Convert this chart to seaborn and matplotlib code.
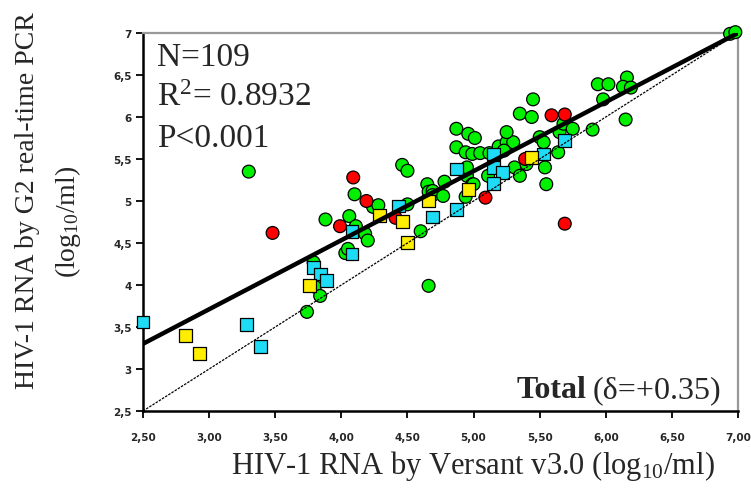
import numpy as np
import pandas as pd
import matplotlib
matplotlib.use("Agg")
import matplotlib.pyplot as plt
import seaborn as sns

# ---------------- data ----------------
green_x = [3.30, 3.88, 3.79, 3.80, 3.84, 3.74, 4.03, 4.05, 4.06, 4.11, 4.18, 4.20, 4.24, 4.28,
           4.10, 4.46, 4.50, 4.50, 4.60, 4.66, 4.65, 4.66, 4.69, 4.69, 4.78, 4.77, 4.95, 4.99,
           4.94, 4.87, 4.96, 5.01, 4.87, 4.94, 4.99, 5.05, 5.12, 5.19, 5.25, 5.30, 5.23, 5.25,
           4.95, 5.11, 5.00, 5.31, 5.40, 5.54, 5.35, 5.55, 5.64, 5.50, 5.53, 5.65, 5.68, 5.75,
           5.90, 5.35, 5.44, 5.45, 5.94, 6.02, 6.16, 6.13, 6.19, 5.98, 6.15, 6.94, 6.98]
green_y = [5.35, 4.78, 4.27, 3.98, 3.87, 3.68, 4.38, 4.43, 4.82, 4.70, 4.61, 4.53, 4.93, 4.95,
           5.08, 5.43, 5.36, 4.96, 4.64, 3.99, 5.20, 5.11, 5.12, 5.07, 5.23, 5.06, 5.30, 5.20,
           5.05, 5.86, 5.80, 5.75, 5.64, 5.58, 5.56, 5.57, 5.57, 5.65, 5.70, 5.70, 5.60, 5.82,
           5.40, 5.30, 5.20, 5.40, 5.44, 5.40, 5.30, 5.20, 5.58, 5.76, 5.70, 5.82, 5.92, 5.86,
           5.85, 6.04, 6.00, 6.21, 6.39, 6.39, 6.47, 6.36, 6.35, 6.21, 5.97, 6.99, 7.01]

red_x = [3.48, 3.99, 4.09, 4.19, 4.41, 5.09, 5.39, 5.59, 5.69, 5.69]
red_y = [4.62, 4.70, 5.28, 5.00, 4.80, 5.04, 5.50, 6.02, 6.03, 4.73]

cyan_x = [2.50, 3.28, 3.39, 3.79, 3.84, 3.89, 4.08, 4.08, 4.43, 4.69, 4.87, 4.87, 5.15,
          5.22, 5.15, 5.15, 5.53, 5.69]
cyan_y = [3.56, 3.53, 3.27, 4.21, 4.13, 4.05, 4.37, 4.64, 4.94, 4.81, 4.90, 5.38, 5.40,
          5.34, 5.21, 5.56, 5.56, 5.72]

yellow_x = [2.82, 2.93, 3.76, 4.29, 4.46, 4.50, 4.66, 4.96, 5.44]
yellow_y = [3.40, 3.18, 3.99, 4.83, 4.76, 4.51, 5.00, 5.14, 5.52]

fit_x = [2.50, 7.00]          # regression line
fit_y = [3.30, 7.00]
ident_x = [2.50, 7.00]        # line of identity
ident_y = [2.50, 7.00]

x_ticks = [2.5, 3.0, 3.5, 4.0, 4.5, 5.0, 5.5, 6.0, 6.5, 7.0]
x_ticklabels = ["2,50", "3,00", "3,50", "4,00", "4,50", "5,00", "5,50", "6,00", "6,50", "7,00"]
y_ticks = [2.5, 3.0, 3.5, 4.0, 4.5, 5.0, 5.5, 6.0, 6.5, 7.0]
y_ticklabels = ["2,5", "3", "3,5", "4", "4,5", "5", "5,5", "6", "6,5", "7"]

stats_lines = ["N=109", r"R$^2$= 0.8932", "P<0.001"]
total_bold = "Total"
total_rest = "(δ=+0.35)"
xlabel = r"HIV-1 RNA by Versant v3.0 (log$_{10}$/ml)"
ylabel1 = "HIV-1 RNA by G2 real-time PCR"
ylabel2 = r"(log$_{10}$/ml)"

# ---------------- build table ----------------
frames = []
for name, xs, ys in [("green", green_x, green_y), ("red", red_x, red_y),
                     ("cyan", cyan_x, cyan_y), ("yellow", yellow_x, yellow_y)]:
    frames.append(pd.DataFrame({"x": xs, "y": ys, "grp": name}))
df = pd.concat(frames, ignore_index=True)

palette = {"green": "#00F000", "red": "#FF0000", "cyan": "#1EDCF5", "yellow": "#FFEE00"}
markers = {"green": "o", "red": "o", "cyan": "s", "yellow": "s"}

# ---------------- plot ----------------
sns.set_style("white")
plt.rcParams["font.family"] = ["Liberation Serif", "DejaVu Serif"]
plt.rcParams["mathtext.fontset"] = "custom"
plt.rcParams["mathtext.rm"] = "Liberation Serif"
plt.rcParams["mathtext.it"] = "Liberation Serif:italic"
plt.rcParams["mathtext.bf"] = "Liberation Serif:bold"

fig = plt.figure(figsize=(7.51, 4.89), dpi=100)
ax = fig.add_axes([143 / 751, 1 - 412 / 489, 595 / 751, 378 / 489])

sns.scatterplot(data=df, x="x", y="y", hue="grp", style="grp", palette=palette,
                markers=markers, s=85, edgecolor="black", linewidth=0.9,
                legend=False, ax=ax, zorder=3, clip_on=False)

sns.lineplot(x=ident_x, y=ident_y, ax=ax, color="black", linewidth=0.9,
             linestyle=(0, (2, 1)), zorder=4)
sns.lineplot(x=fit_x, y=fit_y, ax=ax, color="black", linewidth=3.2, zorder=5)

ax.set_xlim(2.5, 7.0)
ax.set_ylim(2.5, 7.0)
ax.set_xticks(x_ticks)
ax.set_xticklabels(x_ticklabels)
ax.set_yticks(y_ticks)
ax.set_yticklabels(y_ticklabels)
ax.set_xlabel("")
ax.set_ylabel("")

for lab in ax.get_xticklabels() + ax.get_yticklabels():
    lab.set_family("DejaVu Sans")
    lab.set_fontweight("bold")
    lab.set_fontsize(7.5)
ax.tick_params(axis="both", direction="out", length=5, width=1.3, color="black",
               bottom=True, left=True, top=False, right=False)
ax.tick_params(axis="x", pad=10)
ax.tick_params(axis="y", pad=3)

for side in ["left", "bottom"]:
    ax.spines[side].set_color("black")
    ax.spines[side].set_linewidth(1.8)
for side in ["top", "right"]:
    ax.spines[side].set_color("#999999")
    ax.spines[side].set_linewidth(1.6)

# statistics
for txt, yy in zip(stats_lines, [0.937, 0.831, 0.722]):
    ax.text(0.023, yy, txt, transform=ax.transAxes, fontsize=24, va="center", ha="left")

ax.text(0.746, 0.056, total_bold, transform=ax.transAxes, fontsize=23,
        fontweight="bold", va="center", ha="right")
ax.text((593 - 143) / 595, 0.056, total_rest, transform=ax.transAxes, fontsize=23,
        va="center", ha="left")

# axis titles
fig.text(473 / 751, 1 - 466 / 489, xlabel, fontsize=22, ha="center", va="center")
fig.text(28 / 751, 1 - 201 / 489, ylabel1, fontsize=20, ha="center", va="center", rotation=90)
fig.text(68 / 751, 1 - 222 / 489, ylabel2, fontsize=20, ha="center", va="center", rotation=90)

fig.savefig("out.png", dpi=100)
